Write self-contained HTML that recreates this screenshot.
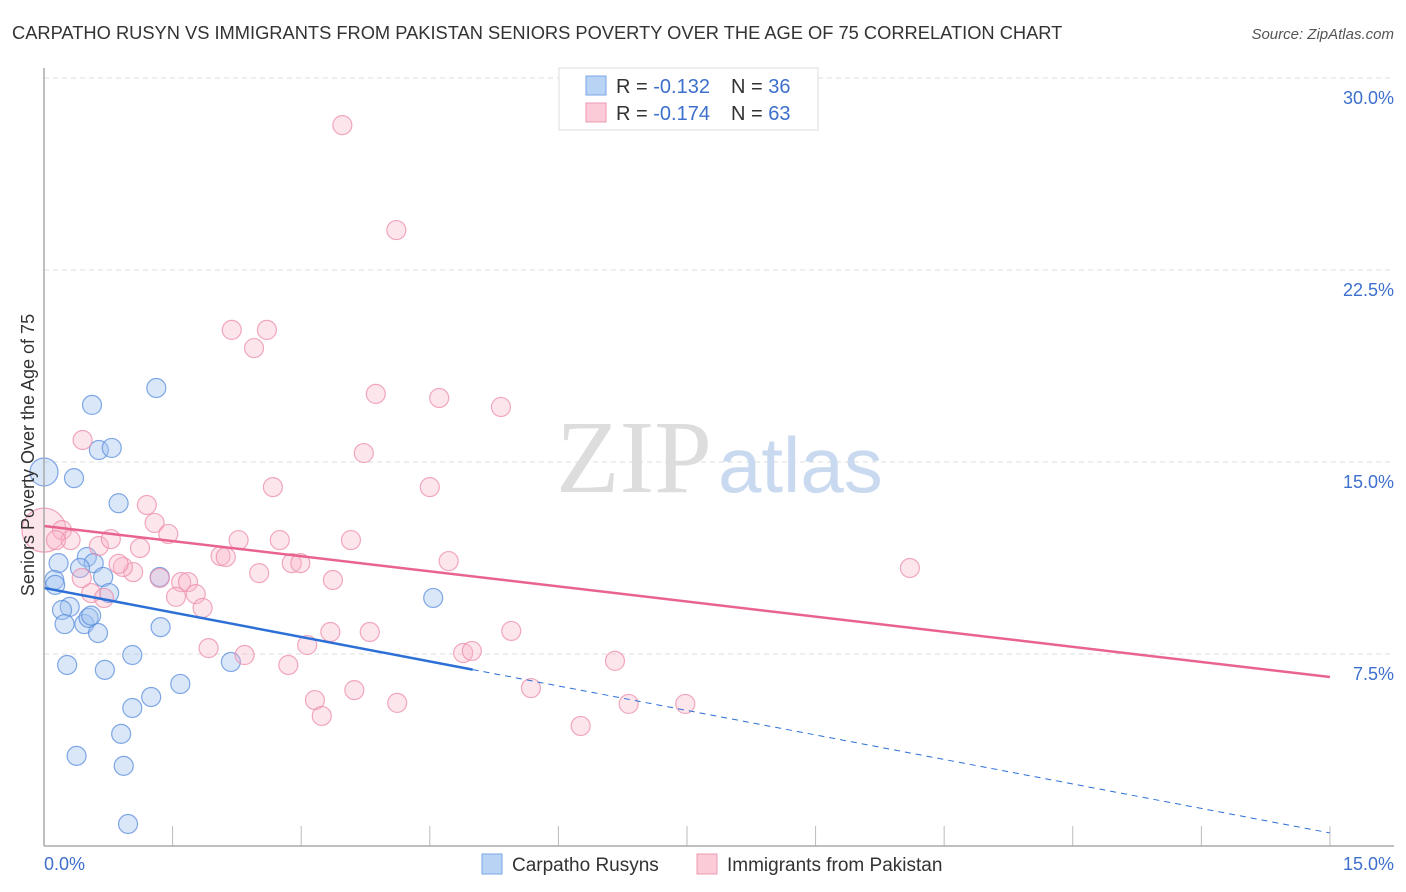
<!DOCTYPE html>
<html><head><meta charset="utf-8">
<style>
body{margin:0;background:#fff;font-family:"Liberation Sans",sans-serif;}
svg{display:block}
</style></head>
<body>
<svg id="chart" width="1406" height="892" xmlns="http://www.w3.org/2000/svg">
<text x="12" y="39" font-size="18.3" fill="#333">CARPATHO RUSYN VS IMMIGRANTS FROM PAKISTAN SENIORS POVERTY OVER THE AGE OF 75 CORRELATION CHART</text>
<text x="1394" y="39" font-size="15" fill="#555" font-style="italic" text-anchor="end">Source: ZipAtlas.com</text>
<g id="grid"></g>
<text x="712" y="492" font-size="104" fill="#ddd" text-anchor="end" font-family="Liberation Serif,serif">ZIP</text>
<text x="718" y="492" font-size="78" fill="#c8d9f0">atlas</text>
<g id="points"></g>
<g id="lines"></g>
<line x1="44" y1="68" x2="44" y2="846" stroke="#aaa" stroke-width="1.5"/>
<line x1="44" y1="846" x2="1394" y2="846" stroke="#aaa" stroke-width="1.5"/>
<text transform="translate(34,455) rotate(-90)" font-size="18" fill="#333" text-anchor="middle">Seniors Poverty Over the Age of 75</text>
<text x="44" y="870" font-size="18" fill="#3d6fcc">0.0%</text>
<text x="1394" y="870" font-size="18" fill="#3d6fcc" text-anchor="end">15.0%</text>
<g>
<rect x="559" y="68" width="259" height="62" fill="#fff" stroke="#ddd"/>
<rect x="586" y="76" width="20" height="19" fill="#b9d3f5" stroke="#7aa6e6"/>
<rect x="586" y="103" width="20" height="19" fill="#fccbd8" stroke="#ee9ab2"/>
<text x="616" y="93" font-size="20" fill="#333">R = <tspan fill="#3d6fcc">-0.132</tspan><tspan x="731">N = </tspan><tspan fill="#3d6fcc">36</tspan></text>
<text x="616" y="120" font-size="20" fill="#333">R = <tspan fill="#3d6fcc">-0.174</tspan><tspan x="731">N = </tspan><tspan fill="#3d6fcc">63</tspan></text>
</g>
<g>
<rect x="482" y="854" width="20" height="20" fill="#b9d3f5" stroke="#7aa6e6"/>
<text x="512" y="871" font-size="19" fill="#333">Carpatho Rusyns</text>
<rect x="697" y="854" width="20" height="20" fill="#fccbd8" stroke="#ee9ab2"/>
<text x="727" y="871" font-size="19" fill="#333">Immigrants from Pakistan</text>
</g>
</svg>
<script>
const yTicks=[7.5,15,22.5,30];
const yTickLabels=["7.5%","15.0%","22.5%","30.0%"];
const xTicks=[0,1.5,3,4.5,6,7.5,9,10.5,12,13.5,15];
const blueX=[0.00,0.56,1.31,0.64,0.79,0.35,0.87,0.17,0.12,0.13,0.50,0.58,0.42,0.69,0.76,1.35,0.30,0.21,0.24,0.47,0.63,0.52,1.03,0.27,0.71,2.18,1.59,1.25,1.03,4.54,0.90,0.38,0.93,0.98,1.36,0.55];
const blueY=[14.61,17.23,17.89,15.47,15.55,14.37,13.39,11.05,10.39,10.20,11.29,11.05,10.86,10.51,9.88,10.51,9.34,9.22,8.67,8.67,8.32,8.91,7.46,7.07,6.88,7.19,6.33,5.82,5.39,9.69,4.38,3.52,3.13,0.86,8.55,9.0];
const pinkX=[0.00,0.21,0.31,0.45,0.14,0.64,0.78,1.12,1.20,1.29,1.45,1.04,0.92,0.87,0.55,0.70,0.44,1.35,1.60,1.68,1.54,1.77,1.85,1.92,2.06,2.12,2.19,2.45,2.60,2.67,2.27,2.51,2.34,2.75,2.89,2.99,3.07,2.85,3.16,3.24,3.37,3.48,3.58,3.62,3.73,3.34,3.80,3.87,4.11,4.12,4.50,4.61,4.72,4.89,4.99,5.33,5.45,5.68,6.26,6.66,6.82,7.48,10.10];
const pinkY=[12.34,12.34,11.95,15.86,11.95,11.72,11.99,11.64,13.32,12.62,12.19,10.70,10.90,11.02,9.88,9.69,10.47,10.47,10.31,10.31,9.73,9.84,9.30,7.73,11.33,11.29,20.16,19.45,20.16,14.02,11.95,10.66,7.46,11.95,11.05,11.05,7.85,7.07,5.70,5.08,10.39,28.16,11.95,6.09,15.35,8.36,8.36,17.66,24.06,5.59,14.02,17.50,11.13,7.54,7.62,17.15,8.40,6.17,4.69,7.23,5.55,5.55,10.86];
const blueTrend=[10.08,0.51];
const blueSolidEnd=5.0;
const pinkTrend=[12.5,6.6];
const NS="http://www.w3.org/2000/svg";
const X=v=>44+v*85.73, Y=v=>654-(v-7.5)*25.6;
function mk(t,a,p){const e=document.createElementNS(NS,t);for(const k in a)e.setAttribute(k,a[k]);p.appendChild(e);return e;}
const grid=document.getElementById('grid');
yTicks.forEach((t,i)=>{
 const l=mk('line',{x1:44,x2:1394,y1:Y(t),y2:Y(t),stroke:'#ddd','stroke-dasharray':'5,4'},grid);
 
 
 const tx=mk('text',{x:1394,y:Y(t)+26,'font-size':18,fill:'#3d6fcc','text-anchor':'end'},grid);
 tx.textContent=yTickLabels[i];
 
 
});
xTicks.forEach(t=>{
 const l=mk('line',{x1:X(t),x2:X(t),y1:826,y2:846,stroke:'#bbb'},grid);
 
 
});
const pts=document.getElementById('points');
blueX.forEach((x,i)=>{
 const c=mk('circle',{cx:X(x),cy:Y(blueY[i]),r:i==0?14:9.5,fill:'rgba(160,195,240,0.4)',stroke:'rgba(90,140,220,0.75)','stroke-width':1.2},pts);
 
 
});
pinkX.forEach((x,i)=>{
 const c=mk('circle',{cx:X(x),cy:Y(pinkY[i]),r:i==0?22:9.5,fill:'rgba(250,180,200,0.35)',stroke:'rgba(236,140,170,0.75)','stroke-width':1.2},pts);
 
 
});
const ln=document.getElementById('lines');
const bAt=x=>blueTrend[0]+(blueTrend[1]-blueTrend[0])*x/15;
let a=mk('line',{x1:X(0),y1:Y(bAt(0)),x2:X(blueSolidEnd),y2:Y(bAt(blueSolidEnd)),stroke:'#2c6fd6','stroke-width':2.5},ln);


a=mk('line',{x1:X(blueSolidEnd),y1:Y(bAt(blueSolidEnd)),x2:X(15),y2:Y(bAt(15)),stroke:'#2c6fd6','stroke-width':1,'stroke-dasharray':'6,5'},ln);


a=mk('line',{x1:X(0),y1:Y(pinkTrend[0]),x2:X(15),y2:Y(pinkTrend[1]),stroke:'#e8638f','stroke-width':2.5},ln);


</script>
</body></html>
